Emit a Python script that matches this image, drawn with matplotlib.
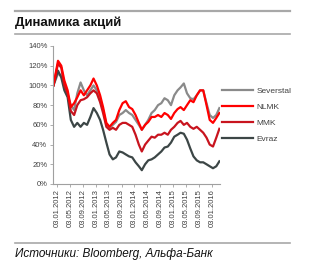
import matplotlib
matplotlib.use("Agg")
import matplotlib.pyplot as plt
import pandas as pd
from matplotlib.lines import Line2D

plt.rcParams['font.family'] = ['Liberation Sans', 'DejaVu Sans']

# ---- data ----
dates = pd.to_datetime(['2011-12-01']).append(
    pd.date_range('2012-01-01', '2016-03-01', freq='MS') + pd.Timedelta(days=12))

severstal = [100, 112, 110, 100, 90, 80, 75, 92, 103, 95, 90, 95, 100,
             95, 85, 75, 60, 57, 60, 63, 70, 72, 75, 72, 70,
             65, 60, 55, 60, 65, 72, 75, 80, 82, 87, 85, 80,
             90, 95, 98, 102, 92, 87, 86, 90, 95, 95, 82, 70,
             67, 70, 77]
nlmk = [100, 125, 120, 105, 95, 78, 82, 88, 95, 90, 95, 100, 107,
        100, 90, 78, 62, 58, 62, 65, 75, 82, 84, 78, 76,
        70, 62, 55, 60, 63, 68, 68, 70, 68, 72, 70, 66,
        72, 76, 78, 75, 80, 85, 83, 90, 95, 95, 80, 65,
        62, 67, 72]
mmk = [100, 122, 118, 100, 92, 74, 70, 80, 85, 86, 88, 92, 95,
       92, 83, 72, 58, 55, 57, 55, 60, 62, 62, 60, 58,
       50, 40, 33, 40, 44, 48, 47, 50, 50, 52, 50, 55,
       58, 62, 64, 60, 62, 58, 56, 58, 55, 52, 47, 40,
       38, 47, 56]
evraz = [100, 115, 108, 95, 88, 65, 58, 62, 58, 62, 60, 68, 77,
         72, 65, 55, 42, 30, 25, 27, 33, 32, 30, 28, 27,
         22, 18, 14, 20, 24, 25, 27, 30, 33, 37, 38, 42,
         48, 50, 52, 51, 45, 36, 28, 24, 22, 22, 20, 18,
         16, 18, 23]

names = ['Severstal', 'NLMK', 'MMK', 'Evraz']
colors = ['#8a8a8a', '#ff0000', '#c8141e', '#3c4646']
tick_dates = ['2012-01-03', '2012-05-03', '2012-09-03', '2013-01-03', '2013-05-03',
              '2013-09-03', '2014-01-03', '2014-05-03', '2014-09-03', '2015-01-03',
              '2015-05-03', '2015-09-03', '2016-01-03']
yticks = [0, 20, 40, 60, 80, 100, 120, 140]

# ---- figure ----
W, H = 318, 272
fig = plt.figure(figsize=(W / 100, H / 100), dpi=100)
ax = fig.add_axes([53 / W, 1 - 184 / H, (220 - 53) / W, (184 - 46) / H])

series = {'Severstal': severstal, 'NLMK': nlmk, 'MMK': mmk, 'Evraz': evraz}
order = ['Severstal', 'Evraz', 'MMK', 'NLMK']
for n in order:
    ax.plot(dates, series[n], color=colors[names.index(n)], lw=1.6,
            solid_joinstyle='round')

ax.set_ylim(0, 140)
ax.set_yticks(yticks)
ax.set_yticklabels([f'{v}%' for v in yticks])
ax.set_xlim(pd.Timestamp('2011-11-27'), pd.Timestamp('2016-03-19'))
td = pd.to_datetime(tick_dates)
ax.set_xticks(td)
ax.set_xticklabels([d.strftime('%d.%m.%Y') for d in td], rotation=90)

for s in ['top', 'right']:
    ax.spines[s].set_visible(False)
for s in ['left', 'bottom']:
    ax.spines[s].set_color('#a0a0a0')
    ax.spines[s].set_linewidth(0.8)
ax.tick_params(axis='both', colors='#a0a0a0', labelcolor='#404040',
               labelsize=5.5, length=2, width=0.6, pad=2)

handles = [Line2D([0], [0], color=c, lw=1.6) for c in colors]
leg = ax.legend(handles, names, loc='center left', bbox_to_anchor=(1.012, 0.50),
                frameon=False, fontsize=6, handlelength=3.7, handletextpad=0.4,
                labelspacing=1.0, borderpad=0, borderaxespad=0)
for t in leg.get_texts():
    t.set_color('#404040')

# ---- title, rules, source ----
fig.add_artist(Line2D([15 / W, 290 / W], [1 - 11 / H] * 2, color='#a8a8a8', lw=1.6))
fig.add_artist(Line2D([15 / W, 290 / W], [1 - 34 / H] * 2, color='#a8a8a8', lw=1.2))
fig.add_artist(Line2D([15 / W, 290 / W], [1 - 243 / H] * 2, color='#a8a8a8', lw=1.2))
fig.text(15 / W, 1 - 23 / H, 'Динамика акций', fontsize=9.5, fontweight='bold',
         va='center', ha='left', color='#111111')
fig.text(15 / W, 1 - 254 / H, 'Источники: Bloomberg, Альфа-Банк', fontsize=8.5,
         style='italic', va='center', ha='left', color='#111111')

fig.savefig('out.png', dpi=100)
